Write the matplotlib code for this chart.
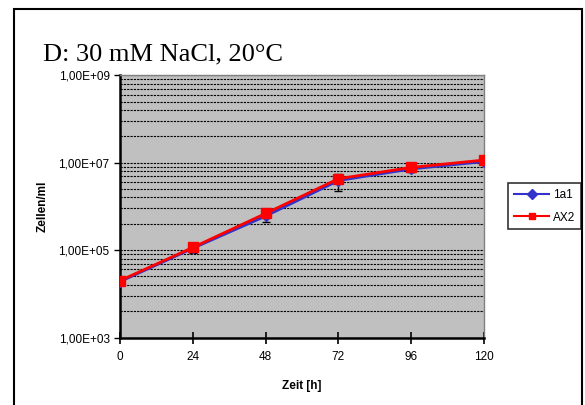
import numpy as np
import matplotlib.pyplot as plt
from matplotlib.patches import Rectangle
from matplotlib.lines import Line2D
from matplotlib.ticker import FixedLocator

zeit = [0, 24, 48, 72, 96, 120]
zellen_1a1 = [1.9e4, 1.1e5, 6.0e5, 3.9e6, 7.2e6, 1.06e7]
err_1a1 = [2e3, 2.5e4, 1.5e5, 1.6e6, 1.2e6, 1.0e6]
zellen_ax2 = [2.0e4, 1.15e5, 6.9e5, 4.3e6, 7.8e6, 1.15e7]
err_ax2 = [2e3, 1.5e4, 8e4, 8e5, 8e5, 8e5]
y_ticks = [1e3, 1e5, 1e7, 1e9]
y_labels = ['1,00E+03', '1,00E+05', '1,00E+07', '1,00E+09']

plt.rcParams['font.family'] = ['Liberation Sans', 'DejaVu Sans']

fig = plt.figure(figsize=(5.85, 4.05), dpi=100)
# outer chart border (open at the bottom edge)
fig.patches.append(Rectangle((14/585, -0.05), (582-14)/585, 1.05 - 9/405,
                             transform=fig.transFigure, fill=False,
                             edgecolor='black', linewidth=1.5))

ax = fig.add_axes([120/585, 1 - 337.5/405, (484-120)/585, (337.5-75.3)/405])
ax.set_facecolor('#c0c0c0')
ax.set_yscale('log')
ax.set_ylim(1e3, 1e9)
ax.set_xlim(0, 120)

# Excel log base 100: minor lines at k^2 times each major value
for base in [1e3, 1e5, 1e7]:
    for k in range(1, 10):
        ax.axhline(base * k**2, color='black', linestyle=(0, (2, 1)),
                   linewidth=0.8, zorder=1)
ax.axhline(1e9, color='black', linestyle=(0, (2, 1)), linewidth=0.8, zorder=1)

ax.errorbar(zeit, zellen_1a1, yerr=err_1a1, color='#3333cc', marker='D',
            markersize=5, linewidth=2, ecolor='black', elinewidth=1,
            capsize=3, zorder=3)
ax.errorbar(zeit, zellen_ax2, yerr=err_ax2, color='red', marker='s',
            markersize=6.5, linewidth=2, ecolor='black', elinewidth=1,
            capsize=3, zorder=4)

ax.yaxis.set_major_locator(FixedLocator(y_ticks))
ax.yaxis.set_minor_locator(FixedLocator([]))
ax.set_yticklabels(y_labels)
ax.set_xticks(zeit)
ax.tick_params(axis='y', which='major', direction='out', length=4, width=1,
               labelsize=8.5)
ax.tick_params(axis='x', which='major', direction='inout', length=8, width=1.2,
               labelsize=8.5, pad=6)

for s in ['left', 'bottom']:
    ax.spines[s].set_linewidth(1.8)
for s in ['right', 'top']:
    ax.spines[s].set_color('#808080')
    ax.spines[s].set_linewidth(1)

ax.set_xlabel('Zeit [h]', fontsize=8.5, fontweight='bold', labelpad=12)
ax.set_ylabel('Zellen/ml', fontsize=8.5, fontweight='bold', labelpad=7)

fig.text(43/585, 1 - 60/405, 'D: 30 mM NaCl, 20°C', fontsize=19,
         family=['Liberation Serif', 'DejaVu Serif'])

handles = [Line2D([], [], color='#3333cc', marker='D', markersize=5, linewidth=1.5),
           Line2D([], [], color='red', marker='s', markersize=5, linewidth=1.5)]
leg = ax.legend(handles, ['1a1', 'AX2'], loc='upper left',
                bbox_to_anchor=(508/585, 1 - 183/405),
                bbox_transform=fig.transFigure, fontsize=8.5, frameon=True,
                fancybox=False, edgecolor='black', borderpad=0.5,
                handlelength=3, labelspacing=0.9, handletextpad=0.3,
                borderaxespad=0)
leg.get_frame().set_linewidth(1.2)

fig.savefig('out.png', dpi=100)
